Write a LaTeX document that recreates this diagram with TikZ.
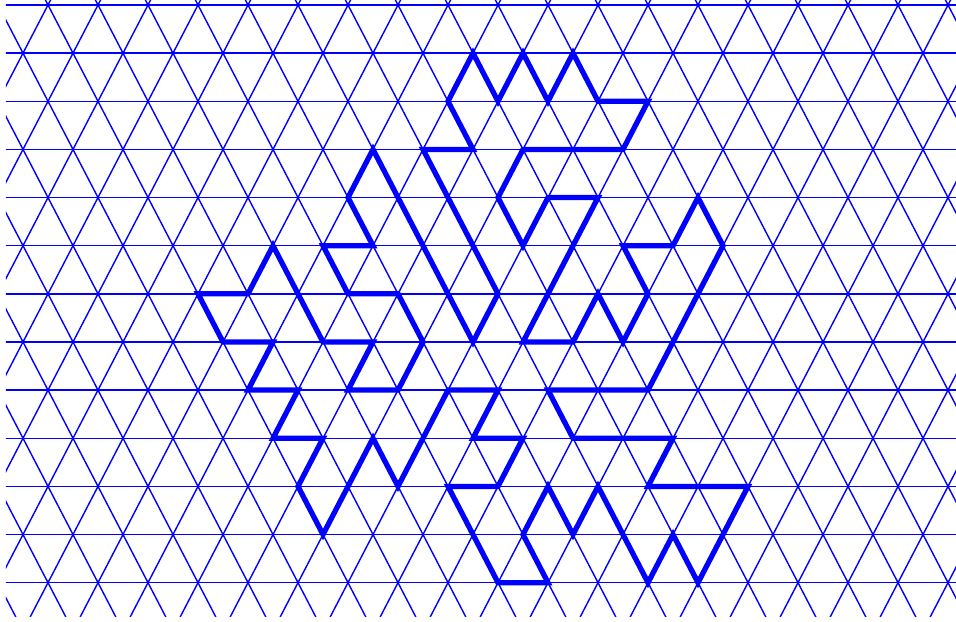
\documentclass[tikz,border=0pt]{standalone}
\begin{document}
\begin{tikzpicture}[
gridline/.style={blue, line width=0.4pt},
loopline/.style={blue, line width=1.5pt, line join=miter}
]
\useasboundingbox (0,0) rectangle (9.56,-6.22);
\begin{scope}
\clip (0.06,0) rectangle (9.56,-6.17);
\begin{scope}[shift={(-0.02,-0.05)}, x=0.25cm, y=-0.4814cm]
% triangular grid
\foreach \r in {0,...,12}
  \draw[gridline] (-2,\r) -- (40,\r);
\foreach \c in {-14,-12,...,40}
  \draw[gridline] (\c-1,-1) -- (\c+14,14);
\foreach \c in {0,2,...,54}
  \draw[gridline] (\c+1,-1) -- (\c-14,14);
% closed path
\draw[loopline] (18,2) -- (19,1) -- (20,2) -- (21,1) -- (22,2) -- (23,1) -- (24,2) -- (26,2)
  -- (25,3) -- (21,3) -- (20,4) -- (21,5) -- (22,4) -- (24,4) -- (21,7) -- (23,7)
  -- (24,6) -- (25,7) -- (26,6) -- (25,5) -- (27,5) -- (28,4) -- (29,5) -- (26,8)
  -- (22,8) -- (23,9) -- (27,9) -- (26,10) -- (30,10) -- (28,12) -- (27,11) -- (26,12)
  -- (24,10) -- (23,11) -- (22,10) -- (21,11) -- (22,12) -- (20,12) -- (18,10) -- (20,10)
  -- (21,9) -- (19,9) -- (20,8) -- (18,8) -- (16,10) -- (15,9) -- (13,11) -- (12,10)
  -- (13,9) -- (11,9) -- (12,8) -- (10,8) -- (11,7) -- (9,7) -- (8,6) -- (10,6)
  -- (11,5) -- (13,7) -- (15,7) -- (14,8) -- (16,8) -- (17,7) -- (16,6) -- (14,6)
  -- (13,5) -- (15,5) -- (14,4) -- (15,3) -- (19,7) -- (20,6) -- (17,3) -- (19,3) -- cycle;
\end{scope}
\end{scope}
\end{tikzpicture}
\end{document}
